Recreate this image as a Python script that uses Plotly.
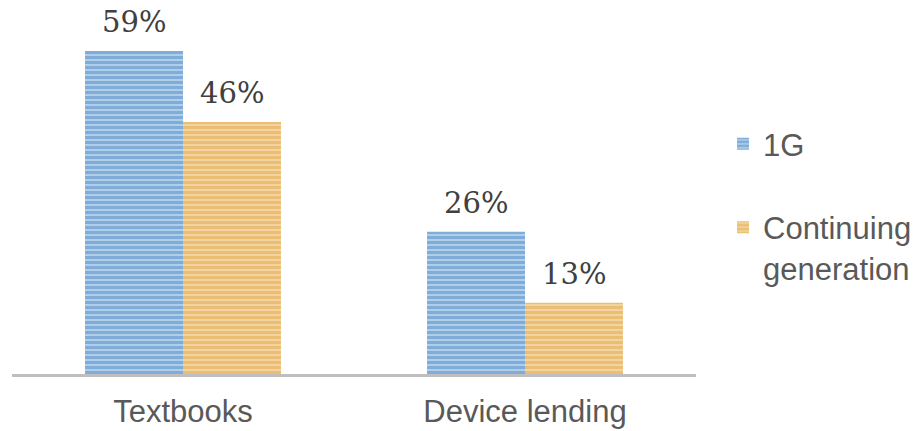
import plotly.graph_objects as go

categories = ["Textbooks", "Device lending"]
series_names = ["1G", "Continuing<br>generation"]
values_1g = [59, 26]
values_cont = [46, 13]

W, H = 917, 431
margin = dict(l=12, r=221, t=0, b=57)
bargap = 0.427
n_series = 2

label_font = dict(family="DejaVu Serif", size=29, color="#404040")

fig = go.Figure()
fig.add_trace(go.Bar(
    x=categories, y=values_1g, name=series_names[0], legendgroup="a",
    marker=dict(color="#3d83c6", line=dict(width=0),
                pattern=dict(shape="-", fgcolor="#2f78c0", bgcolor="#cfe1f3", size=5, solidity=0.75)),
    cliponaxis=False,
))
fig.add_trace(go.Bar(
    x=categories, y=values_cont, name=series_names[1], legendgroup="b",
    marker=dict(color="#e3a135", line=dict(width=0),
                pattern=dict(shape="-", fgcolor="#e09c2c", bgcolor="#f7e2ba", size=5, solidity=0.75)),
    cliponaxis=False,
))

# value labels placed above each bar (bar half-width derived from layout settings)
plot_w = W - margin["l"] - margin["r"]
bar_w = plot_w / len(categories) * (1 - bargap) / n_series
annotations = []
for i, vals in enumerate([values_1g, values_cont]):
    shift = (i - (n_series - 1) / 2) * bar_w
    for c, v in zip(categories, vals):
        annotations.append(dict(x=c, y=v, xref="x", yref="y", text=f"{v}%",
                                showarrow=False, yanchor="bottom", xshift=shift, yshift=10,
                                font=label_font))

fig.update_layout(
    width=W, height=H,
    margin=margin,
    paper_bgcolor="white", plot_bgcolor="white",
    barmode="group", bargap=bargap, bargroupgap=0,
    annotations=annotations,
    showlegend=True,
    legend=dict(x=1.04, xanchor="left", y=0.45, yanchor="middle", valign="top",
                font=dict(family="Liberation Sans", size=31, color="#595959"),
                traceorder="grouped", tracegroupgap=40, itemwidth=30),
    font=dict(family="Liberation Sans", size=31, color="#595959"),
)
fig.update_xaxes(showline=True, linecolor="#bfbfbf", linewidth=2.5, ticks="",
                 tickfont=dict(family="Liberation Sans", size=31, color="#595959"),
                 ticklabelstandoff=8, showgrid=False, automargin=False)
fig.update_yaxes(range=[0, 68.3], visible=False, showgrid=False, automargin=False)

fig.write_html("out.html")
